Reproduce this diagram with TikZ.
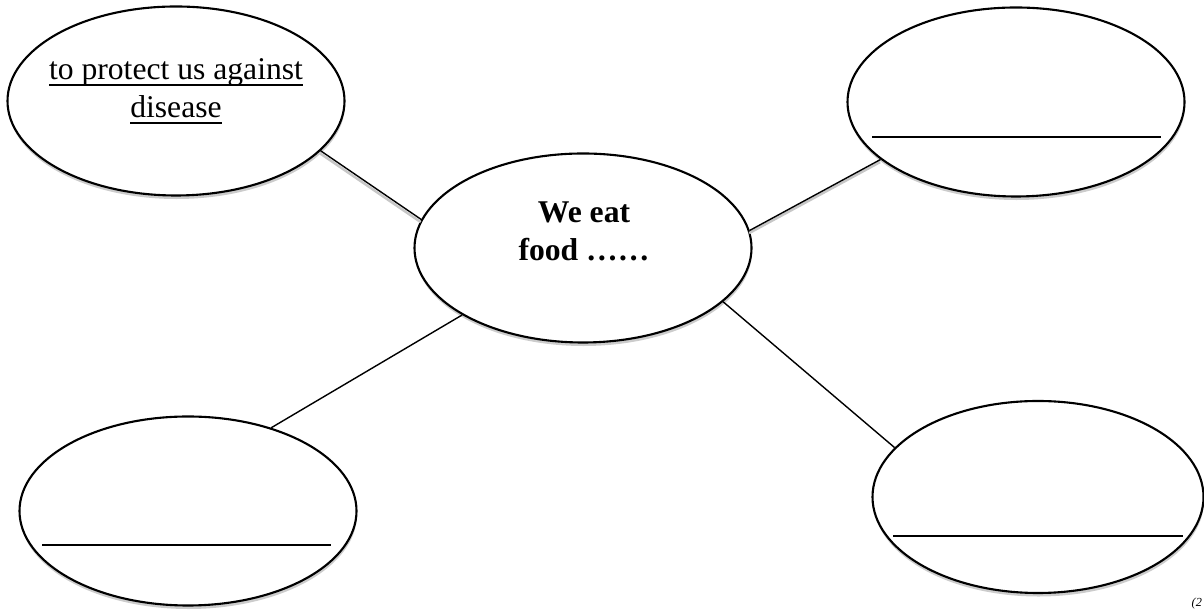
\documentclass[tikz,border=0pt]{standalone}
\usepackage{fontspec}
\setmainfont{Liberation Serif}
\usetikzlibrary{shapes.geometric,shadows,calc}
\newcommand{\ulword}[1]{\setbox0\hbox{#1}\rlap{\rule[-3.3pt]{\wd0}{0.9pt}}\box0}

\begin{document}
\begin{tikzpicture}[
  bubble/.style={ellipse, draw, line width=1.2pt, fill=white, minimum width=6.74cm, minimum height=3.78cm,
    drop shadow={shadow xshift=0.3pt, shadow yshift=-2pt, fill=black!20, opacity=1}},
  link/.style={line width=0.8pt},
  shlink/.style={link, preaction={draw, black!22, line width=1.4pt, transform canvas={shift={(-0.3pt,-1.5pt)}}}},
  blank/.style={line width=0.9pt},
  txt/.style={font=\fontsize{18}{21.5}\selectfont, inner sep=0pt, anchor=base},
]
  \useasboundingbox (0,0) rectangle (24.08,12.22);

  % the five bubbles
  \node[bubble] (hub) at (11.66,7.26) {};
  \node[bubble] (tl) at (3.52,10.20) {};
  \node[bubble] (tr) at (20.32,10.18) {};
  \node[bubble] (bl) at (3.76,2.00) {};
  \node[bubble, minimum width=6.62cm, minimum height=3.84cm] (br) at (20.76,2.28) {};

  % texts
  \node[txt, font=\fontsize{18}{21.5}\selectfont\bfseries] (hubtext) at (11.68,7.76)
    {\begin{tabular}[t]{@{}c@{}}We eat\\food ……\end{tabular}};
  \node[txt] (tltext) at (3.52,10.62)
    {\begin{tabular}[t]{@{}c@{}}\ulword{to protect us against}\\\ulword{disease}\end{tabular}};
  \node[inner sep=1pt, anchor=south east, font=\fontsize{7}{8}\selectfont\itshape] (marks) at (24.08,0) {(2};

  % blank answer lines
  \draw[blank] ($(tr)+(-2.88,-0.70)$) -- ++(5.78,0);
  \draw[blank] ($(bl)+(-2.92,-0.68)$) -- ++(5.78,0);
  \draw[blank] ($(br)+(-2.90,-0.78)$) -- ++(5.80,0);

  % connectors
  \draw[shlink] (tl.-19.6) -- (hub.170.5);
  \draw[shlink] (hub.6.5) -- (tr.-157);
  \draw[link] (hub.-151) -- (bl.45.7);
  \draw[link] (hub.-21.5) -- (br.161);
\end{tikzpicture}
\end{document}
